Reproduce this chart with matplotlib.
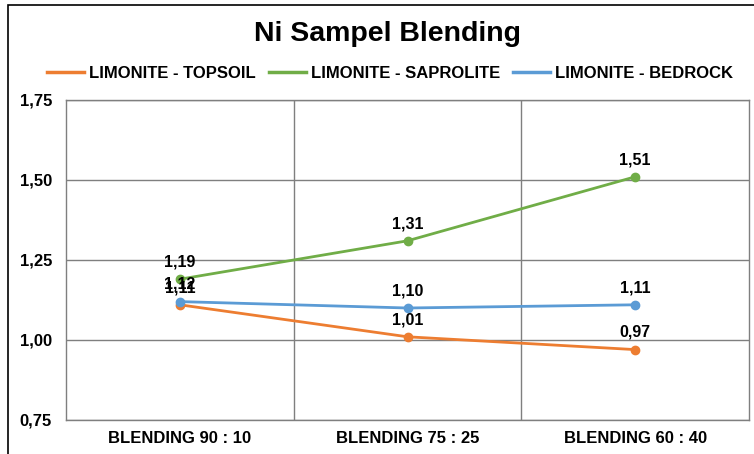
import matplotlib
matplotlib.use("Agg")
import matplotlib.pyplot as plt
from matplotlib.patches import Rectangle

categories = ["BLENDING 90 : 10", "BLENDING 75 : 25", "BLENDING 60 : 40"]
topsoil = [1.11, 1.01, 0.97]
saprolite = [1.19, 1.31, 1.51]
bedrock = [1.12, 1.10, 1.11]
series_names = ["LIMONITE - TOPSOIL", "LIMONITE - SAPROLITE", "LIMONITE - BEDROCK"]
colors = ["#ED7D31", "#70AD47", "#5B9BD5"]
yticks = [0.75, 1.00, 1.25, 1.50, 1.75]

plt.rcParams['font.family'] = ['Liberation Sans', 'DejaVu Sans']

fig = plt.figure(figsize=(7.54, 4.54), dpi=100)
ax = fig.add_axes([66/754, 34/454, (749-66)/754, 320/454])

x = list(range(len(categories)))
for vals, name, c in zip([topsoil, saprolite, bedrock], series_names, colors):
    ax.plot(x, vals, color=c, lw=2, marker='o', ms=6, label=name, zorder=3)
    for xi, v in zip(x, vals):
        ax.annotate(f"{v:.2f}".replace('.', ','), (xi, v), xytext=(0, 7),
                    textcoords='offset points', ha='center', va='bottom',
                    fontsize=11.5, fontweight='bold', color='#000000', zorder=4)

ax.set_xlim(-0.5, 2.5)
ax.set_ylim(0.75, 1.75)
ax.set_yticks(yticks)
ax.set_yticklabels([f"{t:.2f}".replace('.', ',') for t in yticks],
                   fontsize=12, fontweight='bold')
ax.set_xticks(x)
ax.set_xticklabels(categories, fontsize=12, fontweight='bold')
ax.tick_params(length=0, pad=8)
ax.tick_params(axis='y', pad=10)
for yv in yticks:
    ax.axhline(yv, color='#7f7f7f', lw=1, zorder=1)
for xv in [0.5, 1.5]:
    ax.axvline(xv, color='#7f7f7f', lw=1, zorder=1)
for s in ax.spines.values():
    s.set_color('#7f7f7f')
    s.set_linewidth(1)

fig.text(387/754, 1 - 34/454, "Ni Sampel Blending", ha='center', va='center',
         fontsize=20.5, fontweight='bold')
leg = fig.legend(loc='center', bbox_to_anchor=(390/754, 1 - 73/454), ncol=3,
                 frameon=False, prop={'weight': 'bold', 'size': 12},
                 handlelength=2.2, handletextpad=0.3, columnspacing=0.8)
for h in leg.get_lines():
    h.set_marker('')
    h.set_linewidth(2.5)

fig.patches.append(Rectangle((8/754, -0.1), 1.2, 1.1 - 5/454, transform=fig.transFigure,
                             fill=False, edgecolor='black', lw=1.2))

fig.savefig("out.png", dpi=100)
